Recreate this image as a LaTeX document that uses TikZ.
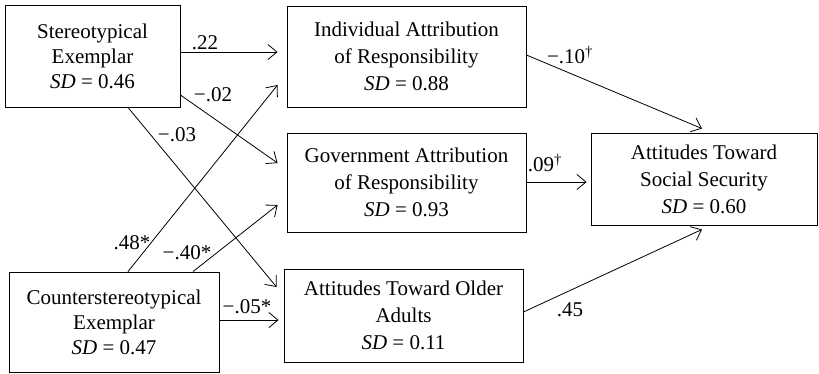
\documentclass[tikz,border=0pt]{standalone}
\usepackage{fontspec}
\setmainfont{Liberation Serif}
\usetikzlibrary{arrows.meta}
\tikzset{
  box/.style={draw, line width=0.9pt, align=center, inner sep=0pt,
    font=\fontsize{21}{27}\selectfont},
  tightbox/.style={box, font=\fontsize{21}{25}\selectfont},
  path/.style={line width=0.8pt, -{Straight Barb[length=9pt,width=15pt,line width=0.8pt]}},
  coef/.style={font=\fontsize{21}{24.5}\selectfont, inner sep=0pt}
}
\begin{document}
\begin{tikzpicture}[x=1pt,y=-1pt]
\useasboundingbox (0,0) rectangle (819,373);
% boxes
\node[tightbox, minimum width=175pt, minimum height=102pt] (stereo) at (92.5,56)
  {Stereotypical\\Exemplar\\\textit{SD} = 0.46};
\node[box, minimum width=239pt, minimum height=101pt] (indiv) at (406.5,56.5)
  {Individual Attribution\\of Responsibility\\\textit{SD} = 0.88};
\node[box, minimum width=239pt, minimum height=99pt] (gov) at (406.5,182.5)
  {Government Attribution\\of Responsibility\\\textit{SD} = 0.93};
\node[box, minimum width=239pt, minimum height=93pt] (older) at (403.5,315.5)
  {Attitudes Toward Older\\Adults\\\textit{SD} = 0.11};
\node[tightbox, minimum width=210pt, minimum height=100pt] (counter) at (114,322)
  {Counterstereotypical\\Exemplar\\\textit{SD} = 0.47};
\node[box, minimum width=226pt, minimum height=92pt] (socsec) at (704,179)
  {Attitudes Toward\\Social Security\\\textit{SD} = 0.60};
% paths
\draw[path] ([yshift=4pt]stereo.east) -- ([xshift=-9pt,yshift=4.5pt]indiv.west);
\draw[path] ([yshift=-39pt]stereo.east) -- ([xshift=-9pt,yshift=19.5pt]gov.west);
\draw[path] ([xshift=35.5pt]stereo.south) -- ([xshift=-7pt,yshift=28.5pt]older.west);
\draw[path] ([xshift=14pt]counter.north) -- ([xshift=-9pt,yshift=-28.5pt]indiv.west);
\draw[path] ([xshift=79pt]counter.north) -- ([xshift=-9pt,yshift=-22.5pt]gov.west);
\draw[path] ([yshift=2pt]counter.east) -- ([xshift=-5pt,yshift=-4.5pt]older.west);
\draw[path] ([yshift=1.5pt]indiv.east) -- ([xshift=-2pt,yshift=4pt]socsec.north);
\draw[path] ([yshift=0.5pt]gov.east) -- ([xshift=-4pt,yshift=-3pt]socsec.west);
\draw[path] ([yshift=3.5pt]older.east) -- ([xshift=-2pt,yshift=-4pt]socsec.south);
% coefficients
\node[coef] (c1) at (205,43) {.22};
\node[coef] (c2) at (213,95) {−.02};
\node[coef] (c3) at (177,135) {−.03};
\node[coef] (c4) at (132,243) {.48*};
\node[coef] (c5) at (187,253) {−.40*};
\node[coef] (c6) at (247,307) {−.05*};
\node[coef] (c7) at (570,55) {−.10\textsuperscript{†}};
\node[coef] (c8) at (545,163) {.09\textsuperscript{†}};
\node[coef] (c9) at (570,310) {.45};
\end{tikzpicture}
\end{document}
